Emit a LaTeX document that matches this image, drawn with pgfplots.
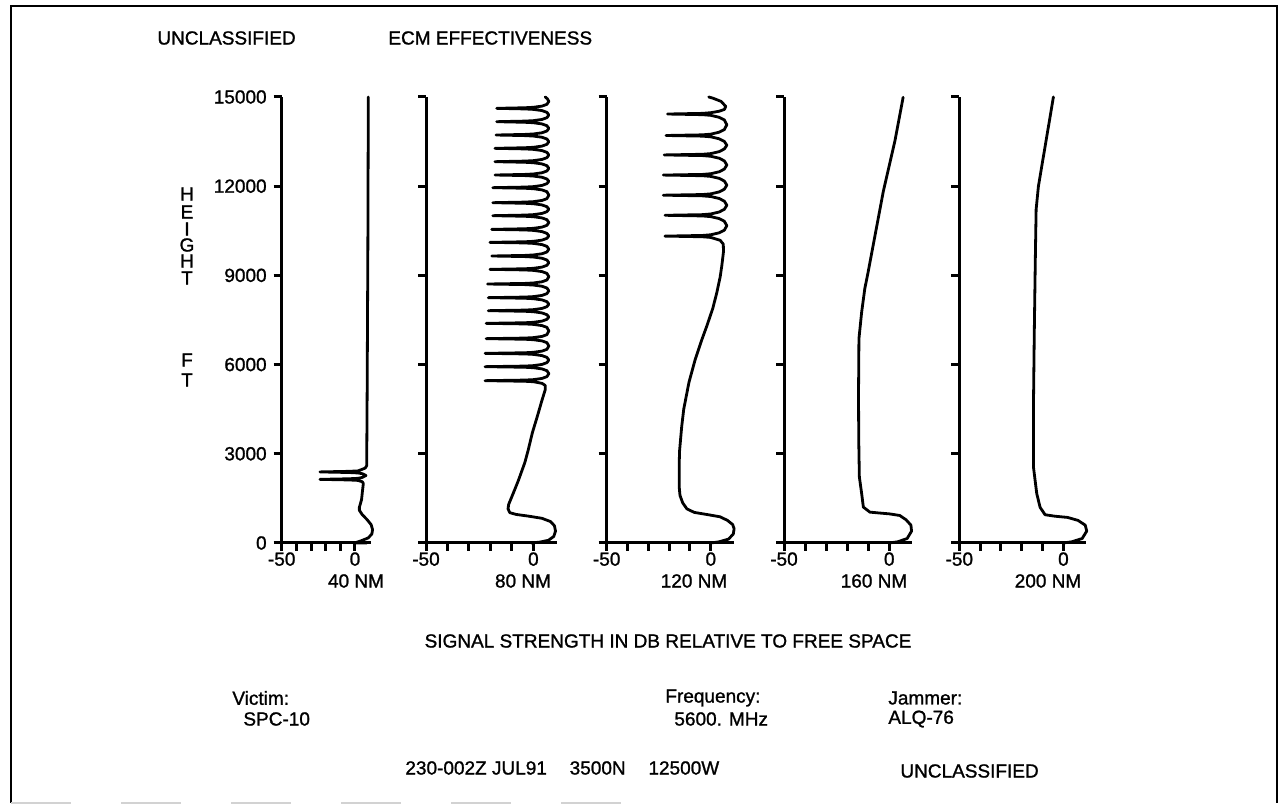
\documentclass[border=0pt]{standalone}
\usepackage{fontspec}
\setmainfont{Liberation Sans}[FakeBold=1.2]
\usepackage{pgfplots}
\pgfplotsset{compat=1.18}
\pgfplotsset{panel/.style={
  scale only axis, height=223pt, xmin=-50, xmax=11, ymin=0, ymax=15000,
  axis x line*=bottom, axis y line*=left,
  axis line style={line width=1.5pt, -},
  xtick={-50,-40,-30,-20,-10,0}, xticklabels={-50,,,,,0},
  ytick={0,3000,6000,9000,12000,15000}, yticklabels={},
  scaled y ticks=false, scaled x ticks=false,
  tick align=outside, major tick length=4pt,
  major tick style={line width=1.5pt, black},
  ticklabel style={font=\fontsize{9.5}{11}\selectfont},
  xticklabel style={inner sep=0pt, yshift=-0.5pt},
  clip=false, anchor=south west,
}, curve/.style={black, line width=1.4pt, line join=round, line cap=round, mark=none}}
\begin{document}
\begin{tikzpicture}
\useasboundingbox (0,0) rectangle (642pt,403pt);
\draw[line width=1.2pt] (5.5pt,1.5pt) -- (5.5pt,400pt) -- (638.5pt,400pt) -- (638.5pt,1.5pt);
\draw[gray!35, line width=1pt, dash pattern=on 30pt off 25pt] (5.5pt,1.5pt)--(330pt,1.5pt);

% Panel 1 : 40 NM
\begin{axis}[panel, at={(140.85pt,131.5pt)}, width=44.7pt,
  yticklabels={0,3000,6000,9000,12000,15000}]
\addplot[curve] coordinates {
(9.1,15000)(8.8,10000)(8.3,5000)(8,2600)(7,2520)(4,2460)(2,2425)(-4,2410)(-23.9,2390)(-4,2370)(2,2355)(5,2330)(7.5,2270)(5,2205)(2,2175)(-4,2160)(-23.9,2140)(-4,2120)(2,2105)(5,2060)(5.7,2000)(5,1700)(4.5,1460)(3,1200)(3,1100)(5,950)(8,800)(11,620)(12,450)(11.5,300)(9,170)(4,70)(1,20)(0,5)(8,2)
};
\end{axis}

% Panel 2 : 80 NM
\begin{axis}[panel, at={(213pt,131.5pt)}, width=65.5pt]
\addplot[curve] coordinates {
(-1,0)(3,30)(7,90)(9.5,220)(10.3,400)(9.8,580)(8,720)(4,830)(-2,900)(-8,960)(-11,1020)(-11.8,1150)(-11.5,1300)(-9.5,1650)(-7,2100)(-4,2700)(-2.5,3100)(-0.5,3700)(2,4300)(4,4800)(5.5,5150)(5.5,5300)(4,5370)
(0,5424)(-4,5439)(-22.5,5459)(-4,5479)(0,5494)(4,5534)(6.3,5594)(7.2,5695)(6.3,5795)(4,5855)
(0,5895)(-4,5910)(-22.5,5930)(-4,5950)(0,5965)(4,6005)(6.3,6065)(7.2,6154)(6.3,6243)(4,6303)
(0,6343)(-4,6358)(-22.5,6378)(-4,6398)(0,6413)(4,6453)(6.3,6513)(7.2,6625)(6.3,6737)(4,6797)
(0,6837)(-4,6852)(-22,6872)(-4,6892)(0,6907)(4,6947)(6.3,7007)(7.2,7130)(6.3,7252)(4,7312)
(0,7352)(-4,7367)(-22,7387)(-4,7407)(0,7422)(4,7462)(6.3,7522)(7.2,7600)(6.3,7678)(4,7738)
(0,7778)(-4,7793)(-21,7813)(-4,7833)(0,7848)(4,7888)(6.3,7948)(7.2,8032)(6.3,8116)(4,8176)
(0,8216)(-4,8231)(-21,8251)(-4,8271)(0,8286)(4,8326)(6.3,8386)(7.2,8481)(6.3,8575)(4,8635)
(0,8675)(-4,8690)(-21.3,8710)(-4,8730)(0,8745)(4,8785)(6.3,8845)(7.2,8957)(6.3,9068)(4,9128)
(0,9168)(-4,9183)(-20.2,9203)(-4,9223)(0,9238)(4,9278)(6.3,9338)(7.2,9428)(6.3,9517)(4,9577)
(0,9617)(-4,9632)(-19.4,9652)(-4,9672)(0,9687)(4,9727)(6.3,9787)(7.2,9882)(6.3,9976)(4,10036)
(0,10076)(-4,10091)(-20.2,10111)(-4,10131)(0,10146)(4,10186)(6.3,10246)(7.2,10330)(6.3,10413)(4,10473)
(0,10513)(-4,10528)(-19.4,10548)(-4,10568)(0,10583)(4,10623)(6.3,10683)(7.2,10778)(6.3,10873)(4,10933)
(0,10973)(-4,10988)(-18.9,11008)(-4,11028)(0,11043)(4,11083)(6.3,11143)(7.2,11227)(6.3,11310)(4,11370)
(0,11410)(-4,11425)(-18.9,11445)(-4,11465)(0,11480)(4,11520)(6.3,11580)(7.2,11698)(6.3,11815)(4,11875)
(0,11915)(-4,11930)(-18.9,11950)(-4,11970)(0,11985)(4,12025)(6.3,12085)(7.2,12163)(6.3,12241)(4,12301)
(0,12341)(-4,12356)(-17.9,12376)(-4,12396)(0,12411)(4,12451)(6.3,12511)(7.2,12600)(6.3,12689)(4,12749)
(0,12789)(-4,12804)(-17.9,12824)(-4,12844)(0,12859)(4,12899)(6.3,12959)(7.2,13049)(6.3,13138)(4,13198)
(0,13238)(-4,13253)(-17.9,13273)(-4,13293)(0,13308)(4,13348)(6.3,13408)(7.2,13497)(6.3,13586)(4,13646)
(0,13686)(-4,13701)(-17.4,13721)(-4,13741)(0,13756)(4,13796)(6.3,13856)(7.2,13945)(6.3,14034)(4,14094)
(0,14134)(-4,14149)(-17.1,14169)(-4,14189)(0,14204)(4,14244)(6.3,14304)(7.2,14394)(6.3,14483)(4,14543)
(0,14583)(-4,14598)(-17.1,14618)(-4,14638)(0,14653)(4,14693)(6.3,14753)(7.2,14850)(6.5,14940)(5.5,15000)
};
\end{axis}

% Panel 3 : 120 NM
\begin{axis}[panel, at={(303.35pt,131.5pt)}, width=63.5pt]
\addplot[curve] coordinates {
(0,0)(4,40)(8.5,130)(10.8,300)(11.2,480)(10.5,620)(8,760)(4.5,880)(-2,960)(-8,1030)(-11.5,1150)(-13.5,1350)(-14.8,1600)(-15.2,1900)(-15.2,2600)(-15,3100)(-14,3900)(-13,4500)(-10.5,5400)(-7.5,6170)(-4.5,6800)(-1.9,7300)(1,7900)(2.9,8425)(4.5,8950)(5.3,9330)(6.1,9800)(6,10050)(4.5,10180)
(0,10276)(-4,10299)(-22,10321)(-4,10343)(0,10366)(4,10431)(6.5,10521)(7.7,10671)(6.5,10821)(4,10911)
(0,10976)(-4,10999)(-22,11021)(-4,11043)(0,11066)(4,11131)(6.5,11221)(7.7,11359)(6.5,11497)(4,11587)
(0,11652)(-4,11675)(-22.8,11697)(-4,11719)(0,11742)(4,11807)(6.5,11897)(7.7,12036)(6.5,12174)(4,12264)
(0,12329)(-4,12352)(-22.8,12374)(-4,12396)(0,12419)(4,12484)(6.5,12574)(7.7,12713)(6.5,12851)(4,12941)
(0,13006)(-4,13029)(-22.4,13051)(-4,13073)(0,13096)(4,13161)(6.5,13251)(7.7,13378)(6.5,13505)(4,13595)
(0,13660)(-4,13683)(-21.5,13705)(-4,13727)(0,13750)(4,13815)(6.5,13905)(7.7,14066)(6.5,14227)(4,14317)
(0,14382)(-4,14405)(-20.8,14427)(-4,14449)(0,14472)(4,14520)(6.5,14580)(7.2,14680)(5,14850)(1,14960)(-1,15000)
};
\end{axis}

% Panel 4 : 160 NM
\begin{axis}[panel, at={(392pt,131.5pt)}, width=64.2pt]
\addplot[curve] coordinates {
(0,0)(4,40)(8.5,150)(10.6,400)(10.3,600)(8,780)(5,925)(0,980)(-5,1010)(-9.2,1038)(-12.3,1207)(-13.1,1658)(-14.2,2222)(-14.5,3500)(-14.6,5000)(-14.4,6869)(-13.1,7771)(-11.6,8561)(-10,9125)(-7.6,10027)(-2.8,11832)(2.7,13524)(6.6,14990)
};
\end{axis}

% Panel 5 : 200 NM
\begin{axis}[panel, at={(479.65pt,131.5pt)}, width=63.5pt]
\addplot[curve] coordinates {
(0,0)(4,40)(9,150)(11.2,400)(10.5,600)(7,760)(2,860)(-4,900)(-8.8,950)(-11.2,1200)(-12.8,1660)(-14.4,2560)(-14.4,4500)(-14,7000)(-13.5,9500)(-13.1,11218)(-12,12000)(-9.6,13000)(-7.2,14000)(-4.8,15000)
};
\end{axis}

\begin{scope}[every node/.style={font=\fontsize{9.5}{11}\selectfont, inner sep=0pt}]
\node[anchor=west] at (78.5pt,384pt) {UNCLASSIFIED};
\node[anchor=west] at (194pt,384pt) {ECM EFFECTIVENESS};
\node at (93.5pt,306pt) {H};
\node at (93.5pt,297pt) {E};
\node at (93.5pt,288.5pt) {I};
\node at (93.5pt,280.5pt) {G};
\node at (93.5pt,272.5pt) {H};
\node at (93.5pt,264pt) {T};
\node at (93.5pt,223pt) {F};
\node at (93.5pt,213pt) {T};
\node at (178pt,112.5pt) {40 NM};
\node at (261.5pt,112.5pt) {80 NM};
\node at (347pt,112.5pt) {120 NM};
\node at (437pt,112.5pt) {160 NM};
\node at (524pt,112.5pt) {200 NM};
\node at (334pt,82.5pt) {SIGNAL STRENGTH IN DB RELATIVE TO FREE SPACE};
\node[anchor=west] at (116pt,54pt) {Victim:};
\node[anchor=west] at (121.5pt,43.5pt) {SPC-10};
\node[anchor=west] at (332.5pt,54pt) {Frequency:};
\node[anchor=west] at (337pt,43.5pt) {5600. MHz};
\node[anchor=west] at (444pt,54pt) {Jammer:};
\node[anchor=west] at (444pt,43.5pt) {ALQ-76};
\node[anchor=west] at (202.5pt,19pt) {230-002Z JUL91\hspace{1.2em}3500N\hspace{1.2em}12500W};
\node[anchor=west] at (450pt,17.5pt) {UNCLASSIFIED};
\end{scope}
\end{tikzpicture}
\end{document}
